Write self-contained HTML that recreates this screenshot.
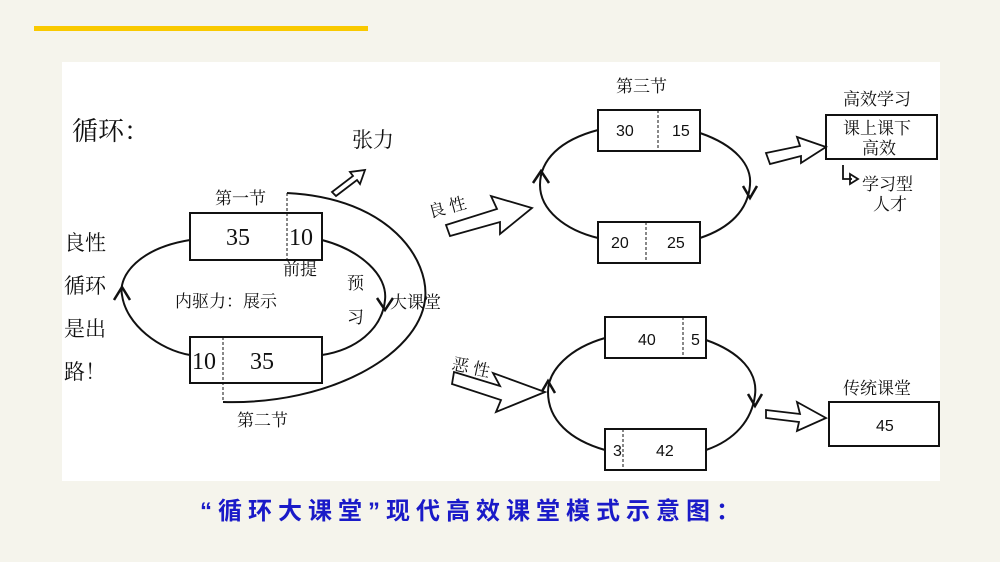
<!DOCTYPE html>
<html><head><meta charset="utf-8"><style>
html,body{margin:0;padding:0;}
body{width:1000px;height:562px;background:#f5f4ec;position:relative;overflow:hidden;font-family:"Liberation Serif","Noto Serif CJK SC",serif;}
.yl{position:absolute;left:34px;top:26px;width:334px;height:5px;background:#f9c900;}
.wh{position:absolute;left:62px;top:62px;width:878px;height:419px;background:#fff;}
svg{position:absolute;left:0;top:0;}
.cap{position:absolute;left:200px;top:491px;white-space:nowrap;font-family:"Liberation Sans","Noto Sans CJK SC",sans-serif;font-size:24px;color:#1a1ac8;font-weight:bold;letter-spacing:6px;}
</style></head><body>
<div class="yl"></div>
<div class="wh"></div>
<svg width="1000" height="562" viewBox="0 0 1000 562" font-family="'Noto Serif CJK SC','Noto Sans CJK SC',serif" fill="#111">
<g fill="none" stroke="#111" stroke-width="2">
<rect x="190" y="213" width="132" height="47"/>
<rect x="190" y="337" width="132" height="46"/>
<path d="M190,240 C140,248 118,275 122,295 C126,325 160,350 190,355"/>
<path d="M322,240 C360,250 388,275 385,300 C382,330 355,350 322,355"/>
<path d="M287,193 C390,198 430,260 425,300 C418,355 330,405 223,402"/>
<rect x="598" y="110" width="102" height="41"/>
<rect x="598" y="222" width="102" height="41"/>
<path d="M598,130 C560,140 540,160 540,185 C540,210 565,230 598,238"/>
<path d="M700,133 C735,145 752,165 750,185 C748,210 730,228 700,238"/>
<rect x="605" y="317" width="101" height="41"/>
<rect x="605" y="429" width="101" height="41"/>
<path d="M605,338 C570,348 548,370 548,392 C548,420 570,440 605,450"/>
<path d="M706,340 C740,352 758,372 755,395 C752,420 735,440 706,450"/>
<rect x="826" y="115" width="111" height="44"/>
<rect x="829" y="402" width="110" height="44"/>
</g>
<g stroke="#111" stroke-width="1" stroke-dasharray="3,2">
<line x1="287" y1="193" x2="287" y2="260"/>
<line x1="223" y1="337" x2="223" y2="402"/>
<line x1="658" y1="110" x2="658" y2="151"/>
<line x1="646" y1="222" x2="646" y2="263"/>
<line x1="683" y1="317" x2="683" y2="358"/>
<line x1="623" y1="429" x2="623" y2="470"/>
</g>
<g fill="none" stroke="#111" stroke-width="2.5">
<path d="M114,300 L122,287 L130,300"/>
<path d="M377,298 L385,310 L393,298"/>
<path d="M533,183 L541,171 L549,183"/>
<path d="M743,186 L750,198 L757,186"/>
<path d="M541,393 L548,381 L555,393"/>
<path d="M748,394 L755,406 L762,394"/>
</g>
<g fill="#fff" stroke="#111" stroke-width="1.8">
<polygon points="332,192 353,176 350,172 365,170 360,184 357,180 336,196"/>
<polygon points="446,225 497,209 491,196 532,208 500,234 500,222 450,236"/>
<polygon points="454,372 500,386 493,373 545,392 496,412 501,400 452,384"/>
<polygon points="766,153 800,146 797,137 826,147 801,163 801,156 770,164"/>
<polygon points="766,410 800,414 797,402 826,418 797,431 799,422 766,418"/>
<path d="M843,165 L843,179 L852,179" fill="none"/>
<polygon points="850,174 858,179 850,184" fill="none"/>
</g>
<g font-size="21">
<text x="72" y="140" font-size="26">循环：</text>
<text x="352" y="147">张力</text>
<text x="64" y="250">良性</text>
<text x="64" y="293">循环</text>
<text x="64" y="336">是出</text>
<text x="64" y="379">路！</text>
</g>
<g font-size="17">
<text x="215" y="204">第一节</text>
<text x="237" y="426">第二节</text>
<text x="283" y="275">前提</text>
<text x="347" y="289">预</text>
<text x="347" y="323">习</text>
<text x="390" y="308">大课堂</text>
<text x="175" y="307">内驱力：展示</text>
<text x="616" y="92">第三节</text>
<text x="843" y="105">高效学习</text>
<text x="843" y="134">课上课下</text>
<text x="862" y="154">高效</text>
<text x="862" y="190">学习型</text>
<text x="873" y="210">人才</text>
<text x="843" y="394">传统课堂</text>
<text x="428" y="215" transform="rotate(-15 440 208)">良 性</text>
<text x="452" y="372" transform="rotate(12 465 366)">恶 性</text>
</g>
<g font-size="24" font-family="'Liberation Serif',serif">
<text x="226" y="245">35</text><text x="289" y="245">10</text>
<text x="192" y="369">10</text><text x="250" y="369">35</text>
</g>
<g font-size="16" font-family="'Liberation Sans',sans-serif">
<text x="616" y="136">30</text><text x="672" y="136">15</text>
<text x="611" y="248">20</text><text x="667" y="248">25</text>
<text x="638" y="345">40</text><text x="691" y="345">5</text>
<text x="613" y="456">3</text><text x="656" y="456">42</text>
<text x="876" y="431">45</text>
</g>
</svg>
<div class="cap">“循环大课堂”现代高效课堂模式示意图：</div>
</body></html>
